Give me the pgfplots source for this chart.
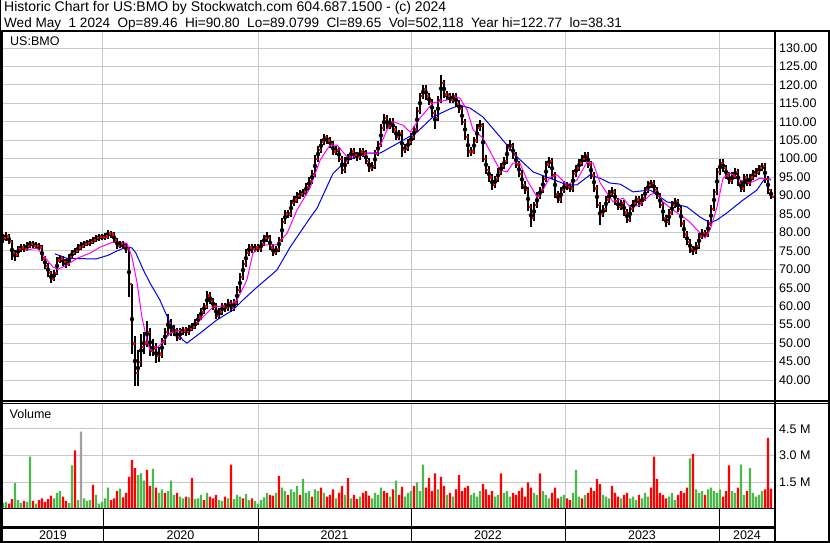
\documentclass[border=0pt]{standalone}
\usepackage{pgfplots}
\pgfplotsset{compat=1.18}
\usepackage{pgfplotstable}
\usepackage{fontspec}
\setmainfont{Liberation Sans}
\definecolor{gridgray}{RGB}{200,200,200}
\definecolor{volgreen}{RGB}{76,184,76}
\definecolor{volred}{RGB}{255,0,0}
\definecolor{volgray}{RGB}{160,160,160}
\definecolor{maBlue}{RGB}{0,0,235}
\definecolor{maMag}{RGB}{255,0,255}
\newcommand\cf{\fontsize{12.5bp}{14bp}\selectfont}
\newcommand\tfa{\fontsize{14bp}{15bp}\selectfont}
\newcommand\tfb{\fontsize{13.55bp}{15bp}\selectfont}

% weekly index i (0 = mid May 2019), low, high, close, volume (millions), colour code (0 up, 1 down, 2 other)
\pgfplotstableread{
i lo hi cl v c
0 77.2 79.5 78.5 0.35 0
1 77.8 80.0 79.0 0.40 0
2 76.8 79.6 77.5 0.30 1
3 72.5 78.0 74.5 0.55 1
4 72.3 75.3 74.0 1.45 0
5 73.4 76.3 75.5 0.50 0
6 74.8 76.9 76.0 0.35 0
7 74.7 76.8 75.5 0.45 1
8 74.9 77.3 76.5 0.40 0
9 75.9 77.8 77.0 2.95 0
10 75.8 77.7 76.5 0.45 1
11 75.6 77.3 76.5 0.30 0
12 75.2 77.2 76.0 0.50 1
13 72.2 76.5 73.0 0.60 1
14 70.2 73.6 71.0 0.40 1
15 68.0 71.8 69.0 0.55 1
16 66.3 69.6 67.5 0.75 1
17 66.8 69.9 69.0 0.60 0
18 68.5 73.3 72.5 0.90 0
19 71.8 73.9 73.0 1.00 0
20 71.0 73.7 72.0 0.70 1
21 70.5 72.8 71.5 0.45 1
22 70.9 74.2 73.5 0.35 0
23 72.9 75.2 74.5 2.45 0
24 73.8 75.8 75.0 3.30 1
25 74.3 76.8 76.0 0.50 0
26 75.3 77.3 76.5 4.35 2
27 75.8 77.8 77.0 0.60 0
28 76.2 78.0 77.2 0.45 0
29 76.4 78.3 77.5 0.50 0
30 76.8 78.7 78.0 1.35 1
31 77.3 79.3 78.5 0.80 0
32 77.8 79.5 78.8 0.30 0
33 77.9 79.6 78.8 0.40 0
34 78.0 79.8 79.0 0.60 0
35 78.3 80.8 79.8 1.20 0
36 78.6 80.5 79.5 0.50 1
37 77.2 80.1 78.0 0.60 1
38 75.6 78.6 76.5 1.00 1
39 75.8 77.8 77.0 1.15 0
40 75.5 77.6 76.5 0.65 1
41 74.3 77.2 75.5 0.90 1
42 62.5 76.0 66.0 1.80 1
43 47.0 66.0 50.0 2.75 1
44 38.3 52.0 42.0 2.30 1
45 38.5 48.0 45.0 1.90 0
46 43.5 52.5 49.0 2.00 0
47 47.0 53.0 50.0 1.60 0
48 49.0 56.0 53.0 2.20 1
49 46.5 54.0 48.0 1.30 1
50 46.5 51.0 49.0 2.25 0
51 44.5 50.0 46.5 1.20 1
52 45.0 49.0 47.0 0.90 0
53 46.0 51.5 50.5 1.10 0
54 49.5 54.0 53.0 0.90 1
55 52.0 58.0 55.5 1.00 0
56 52.0 56.5 53.0 1.60 0
57 51.8 54.8 53.5 0.80 0
58 50.5 54.0 51.5 0.90 1
59 50.8 54.0 53.0 0.70 0
60 52.3 54.5 53.5 0.60 0
61 52.0 54.5 53.0 0.70 1
62 52.2 55.0 54.0 0.65 0
63 53.2 55.5 54.5 1.75 1
64 53.7 56.5 55.5 0.55 0
65 54.8 58.0 57.0 0.60 0
66 56.3 59.5 58.5 0.80 0
67 57.8 61.0 60.0 0.50 1
68 59.2 64.0 63.0 0.90 0
69 60.5 63.8 61.5 0.70 1
70 59.0 62.3 60.0 0.60 1
71 56.5 60.8 57.5 0.80 1
72 56.6 59.4 58.5 0.50 0
73 57.6 60.9 60.0 0.45 0
74 58.5 61.0 59.5 0.70 1
75 58.6 62.0 61.0 0.60 0
76 58.4 61.8 59.5 2.50 1
77 58.6 61.9 61.0 0.55 0
78 60.2 65.4 64.5 0.80 0
79 63.7 68.9 68.0 0.70 0
80 67.2 72.4 71.5 0.60 1
81 70.6 75.4 74.5 0.85 0
82 73.7 76.9 76.0 0.50 0
83 74.5 77.0 75.5 0.60 1
84 74.6 77.0 76.0 0.45 0
85 74.6 77.0 75.5 0.30 0
86 74.7 77.9 77.0 0.50 0
87 76.2 79.4 78.5 0.65 0
88 77.5 80.0 78.5 0.90 0
89 75.2 79.2 76.0 0.80 1
90 73.6 76.8 74.5 0.75 1
91 73.8 76.4 75.5 0.90 0
92 74.8 78.9 78.0 1.85 1
93 77.3 83.9 83.0 1.20 0
94 82.2 86.0 85.0 1.00 0
95 83.8 86.2 85.0 0.80 1
96 84.3 88.9 88.0 1.10 0
97 87.1 89.9 89.0 0.95 0
98 88.1 90.9 90.0 1.30 0
99 89.1 91.4 90.5 0.80 1
100 89.6 91.9 91.0 1.70 0
101 90.1 93.4 92.5 0.90 0
102 91.6 94.9 94.0 1.00 0
103 93.1 96.9 96.0 0.70 1
104 95.1 100.9 100.0 1.10 0
105 99.1 103.4 102.5 1.00 0
106 101.6 105.4 104.5 1.20 1
107 103.6 106.6 106.0 0.90 0
108 103.9 106.5 105.0 0.70 1
109 102.9 105.9 104.0 0.80 1
110 100.9 104.8 102.0 1.10 1
111 101.0 103.5 102.5 0.60 0
112 99.0 103.3 100.0 0.90 1
113 95.9 100.8 97.0 1.30 1
114 96.2 100.4 99.5 0.80 0
115 98.6 101.4 100.5 1.75 1
116 99.6 102.9 102.0 0.60 0
117 100.0 102.8 101.0 0.80 1
118 99.5 101.9 100.5 0.55 1
119 99.6 102.9 102.0 0.70 0
120 100.5 102.8 101.5 0.90 1
121 98.5 102.3 99.5 1.00 1
122 96.4 100.3 97.5 0.75 1
123 96.6 99.0 98.0 0.60 0
124 97.2 102.4 101.5 0.90 0
125 100.6 104.9 104.0 0.80 0
126 103.2 109.4 108.5 1.20 0
127 107.6 112.2 111.0 1.00 1
128 108.0 111.8 109.0 0.90 1
129 108.1 111.0 110.0 0.70 0
130 107.0 110.9 108.0 1.10 1
131 105.0 108.8 106.0 1.60 0
132 105.1 107.9 107.0 0.80 1
133 100.5 107.8 102.5 1.25 1
134 101.6 104.0 103.0 0.70 0
135 102.1 105.4 104.5 0.90 0
136 103.6 106.9 106.0 1.00 0
137 105.1 108.9 108.0 1.30 1
138 107.2 113.9 113.0 1.50 0
139 112.2 117.9 117.0 1.00 0
140 116.1 120.0 119.0 2.50 0
141 116.0 119.9 117.0 1.20 1
142 114.5 117.8 115.5 1.75 1
143 111.4 116.3 112.5 1.00 1
144 108.0 113.3 111.0 2.00 1
145 110.2 116.9 116.0 1.10 0
146 115.2 122.77 120.5 1.80 1
147 116.5 121.3 117.5 1.30 1
148 116.0 118.4 117.0 0.80 0
149 115.0 117.9 116.0 0.90 1
150 115.2 117.9 117.0 0.70 0
151 114.0 117.8 115.0 1.10 1
152 112.5 115.9 113.5 1.90 1
153 109.0 114.3 110.0 1.00 1
154 105.0 110.8 106.0 1.20 1
155 100.5 106.8 102.0 1.30 1
156 100.8 103.2 102.0 0.80 0
157 101.2 105.9 105.0 0.90 0
158 104.2 109.4 108.5 0.70 0
159 107.6 110.5 109.0 1.00 0
160 99.0 109.8 100.0 1.40 1
161 95.8 100.9 97.0 1.10 1
162 93.8 97.9 95.0 0.80 1
163 91.5 95.8 93.0 1.00 1
164 92.1 95.4 94.5 0.70 0
165 93.6 97.4 96.5 0.80 0
166 95.6 98.9 98.0 2.00 1
167 97.1 100.4 99.5 0.90 0
168 98.6 103.9 103.0 1.00 0
169 102.0 105.0 103.5 0.70 0
170 100.0 104.3 101.0 0.90 1
171 97.4 101.9 98.5 0.80 1
172 94.9 99.3 96.0 1.00 1
173 91.9 96.8 93.0 1.20 1
174 90.4 93.9 91.5 0.70 1
175 85.9 92.3 87.0 1.50 1
176 81.5 87.8 84.0 1.20 1
177 83.1 88.3 87.5 0.90 0
178 86.6 90.9 90.0 0.80 0
179 89.1 92.4 91.5 2.00 1
180 90.6 95.4 94.5 1.00 0
181 93.6 99.4 98.5 0.80 0
182 97.6 100.5 99.5 0.60 0
183 94.5 100.3 95.5 0.90 1
184 89.4 96.3 90.5 1.20 1
185 88.0 91.3 89.0 0.60 1
186 88.1 92.4 91.5 0.70 0
187 90.6 93.9 93.0 0.80 0
188 91.5 93.8 92.5 0.60 1
189 91.0 93.4 92.0 0.50 1
190 91.1 96.9 96.0 0.90 0
191 95.1 98.4 97.5 2.20 0
192 96.6 99.9 99.0 0.70 0
193 98.1 100.9 100.0 0.60 1
194 99.1 101.8 101.0 0.80 0
195 97.5 101.8 98.5 0.90 1
196 94.5 99.3 95.5 1.20 1
197 91.0 96.3 92.0 1.00 1
198 86.5 92.8 87.5 1.70 1
199 82.0 88.3 85.0 1.40 1
200 84.1 87.4 86.5 0.80 0
201 85.6 89.9 89.0 0.70 0
202 88.1 91.4 90.5 0.60 0
203 89.6 92.3 91.0 1.30 1
204 87.5 91.8 88.5 0.90 1
205 86.0 89.3 87.0 0.70 1
206 86.1 88.9 88.0 0.60 0
207 84.5 88.8 85.5 0.80 1
208 82.6 86.3 83.5 0.90 1
209 82.7 87.4 86.5 0.60 0
210 85.6 88.9 88.0 0.70 0
211 87.1 89.9 89.0 0.50 0
212 87.0 89.8 88.0 0.80 1
213 87.1 90.4 89.5 0.60 0
214 88.6 92.4 91.5 0.90 0
215 90.6 93.9 93.0 0.70 0
216 92.1 94.2 93.5 1.20 1
217 90.5 94.3 91.5 2.95 1
218 89.0 92.3 90.0 1.70 1
219 86.5 90.8 87.5 0.90 1
220 83.0 88.3 84.0 0.80 1
221 81.5 84.8 83.0 0.60 1
222 82.1 86.4 85.5 0.70 0
223 84.6 88.4 87.5 0.90 0
224 86.6 89.3 88.5 0.50 0
225 85.5 89.2 86.5 0.80 1
226 81.5 87.3 82.5 1.00 1
227 78.5 83.3 79.5 0.90 1
228 76.5 80.3 77.5 1.20 1
229 74.5 78.3 75.5 2.85 0
230 74.0 76.3 75.0 3.10 1
231 74.2 77.4 76.5 1.10 0
232 75.6 79.9 79.0 0.90 0
233 78.1 80.9 80.0 1.00 0
234 78.5 80.8 79.5 0.80 1
235 78.7 83.4 82.5 1.10 0
236 81.7 87.4 86.5 1.20 0
237 85.7 91.9 91.0 1.00 0
238 90.2 97.4 96.5 0.90 0
239 95.7 99.8 99.0 1.10 0
240 96.5 99.8 97.5 0.70 1
241 94.5 98.3 95.5 1.00 1
242 93.0 96.3 94.0 2.45 1
243 93.1 96.4 95.5 1.00 0
244 94.6 97.4 96.5 0.90 0
245 92.5 97.3 93.5 1.20 1
246 91.0 94.3 92.0 2.50 0
247 91.1 95.9 95.0 0.80 0
248 92.5 95.8 93.5 1.00 1
249 92.6 95.9 95.0 2.30 0
250 94.1 96.9 96.0 0.90 0
251 95.1 97.4 96.5 0.70 0
252 95.6 98.4 97.5 0.80 0
253 96.6 98.8 98.0 1.00 0
254 93.5 98.8 94.5 1.10 1
255 90.5 95.3 91.5 4.00 1
256 89.08 91.8 89.65 1.15 1
}\bmo

\pgfplotstableread{
i ma
17.3 74.2
21.3 73.0
26 72.9
31 72.8
35 73.8
38 75.0
41.3 76.1
43 75.8
44.3 74.4
46.8 69.8
49 66.3
52.3 61.7
53.3 59.8
55.7 55.4
60 50.8
61.3 50.0
65.7 52.7
71.3 56.3
76.7 59.0
80 61.7
84.7 65.2
91.3 69.8
95.7 76.0
102.3 83.9
104.7 86.6
110 96.0
114.7 99.6
121.3 101.5
125.7 101.5
132.3 104.5
138 107.2
143.3 111.3
149 113.5
152.3 114.5
155.7 113.7
160 111.3
165.7 105.9
171.3 100.5
176.7 96.4
182.3 94.7
188 92.9
191.3 92.9
195.7 95.6
199 94.7
202.3 93.4
205.7 93.1
210 91.0
215.7 91.5
221.3 88.3
228 86.9
232.3 84.2
235.7 82.6
238 83.4
241.3 85.3
246.7 88.8
251.3 91.5
254 94.7
256 94.4
}\mablue

\pgfplotstableread{
i ma
5 75.8
8 75.2
11.3 75.8
13.3 73.9
16.7 70.6
18.3 70.0
21.3 71.2
24.7 73.0
29 74.4
32.3 76.0
36.7 77.4
41.3 77.1
43 73.3
44.7 66.3
46.3 57.1
48 50.8
49 48.1
51.3 48.7
52.3 49.5
55.7 52.7
59 53.5
63.3 54.1
66.7 57.1
70 59.8
75.7 60.3
78 61.7
81.3 67.1
83.3 74.4
86.7 76.6
91.3 76.6
94.7 79.8
98 86.1
102.3 92.0
105.7 99.6
109 103.7
111.3 103.7
114.7 100.5
118 100.5
122.3 101.5
124.7 101.5
128 107.8
130 110.0
133.3 109.1
135.7 107.2
139 111.0
143.3 115.1
148 115.9
151.3 116.7
152.3 116.4
154.7 113.2
156.7 107.8
160 105.6
163.3 100.5
165.7 96.9
168 96.4
170 98.8
172.3 98.8
174.7 94.2
178 89.6
180 91.5
182.3 95.0
184.7 95.6
188 92.9
191.3 94.2
194.7 99.1
196.7 98.8
199 93.5
201.3 90.7
203.3 88.3
206.7 89.3
209 86.9
212.3 87.4
215.7 90.2
218 91.0
220 88.3
223.3 86.1
226.7 84.2
229 82.8
231.3 80.7
234 78.5
235.7 80.7
238 86.9
240 94.7
242.3 96.1
245.7 94.2
249 93.4
252.3 94.7
254.7 94.4
256 94.2
}\mamag

\begin{document}
\begin{tikzpicture}
\useasboundingbox (0bp,0bp) rectangle (830bp,543bp);
\fill[white] (0bp,0bp) rectangle (830bp,543bp);

% ---------------- price panel ----------------
\begin{axis}[
  at={(3bp,142bp)}, anchor=south west, scale only axis,
  width=772bp, height=369bp,
  xmin=0, xmax=257.33, ymin=34.31, ymax=134.34,
  axis line style={draw=none},
  major tick length=0pt,
  xtick={33.33,85,136,187.33,238.67}, xticklabels={},
  ytick={40,45,...,130}, yticklabel pos=right,
  xmajorgrids, ymajorgrids,
  grid style={gridgray, line width=1bp},
  tick label style={font=\cf, text=black},
  yticklabel style={anchor=west, inner sep=0pt, xshift=4bp,
    /pgf/number format/.cd, fixed, fixed zerofill, precision=2, assume math mode=true},
  clip=true,
]
\addplot[only marks, mark=none,
  error bars/.cd, y dir=both, y explicit, error mark=none,
  error bar style={draw=black, line width=2.2bp}]
  table[x=i, y expr={(\thisrow{hi}+\thisrow{lo})/2}, y error expr={(\thisrow{hi}-\thisrow{lo})/2}] {\bmo};
\addplot[only marks, mark=square*, mark size=0.6bp, color=red]
  table[x expr={\thisrow{i}+0.5}, y=cl] {\bmo};
\addplot[maBlue, line width=1bp] table[x=i, y=ma] {\mablue};
\addplot[maMag, line width=1bp] table[x=i, y=ma] {\mamag};
\end{axis}

% ---------------- volume panel ----------------
\begin{axis}[
  at={(3bp,34bp)}, anchor=south west, scale only axis,
  width=772bp, height=106bp,
  xmin=0, xmax=257.33, ymin=0, ymax=5.96,
  axis line style={draw=none},
  major tick length=0pt,
  xtick={33.33,85,136,187.33,238.67}, xticklabels={},
  ytick={1.5,3,4.5}, yticklabels={1.5 M,3.0 M,4.5 M}, yticklabel pos=right,
  xmajorgrids, ymajorgrids,
  grid style={gridgray, line width=1bp},
  tick label style={font=\cf, text=black},
  yticklabel style={anchor=west, inner sep=0pt, xshift=4bp},
  clip=true,
]
\addplot[ybar, bar width=2.3bp, bar shift=0pt, fill=volgreen, draw=none]
  table[x=i, y expr={ifthenelse(\thisrow{c}==0,\thisrow{v},0)}] {\bmo};
\addplot[ybar, bar width=2.3bp, bar shift=0pt, fill=volred, draw=none]
  table[x=i, y expr={ifthenelse(\thisrow{c}==1,\thisrow{v},0)}] {\bmo};
\addplot[ybar, bar width=2.3bp, bar shift=0pt, fill=volgray, draw=none]
  table[x=i, y expr={ifthenelse(\thisrow{c}==2,\thisrow{v},0)}] {\bmo};
\end{axis}

\begin{scope}[x=1bp,y=1bp]
% ---------------- frames ----------------
\draw[line width=1bp] (0.5,511) -- (0.5,543);
\draw[line width=2bp] (0,511.5) -- (830,511.5);
\draw[line width=3bp] (1.5,0) -- (1.5,512);
\draw[line width=2bp] (775,0) -- (775,512);
\draw[line width=2bp] (829,0) -- (829,512);
\draw[line width=1.3bp] (0,142) -- (830,142);
\draw[line width=1.3bp] (0,139.3) -- (830,139.3);
\draw[line width=1bp] (0,34) -- (775,34);
\draw[line width=2bp] (0,15.5) -- (775,15.5);
\draw[line width=2bp] (0,1) -- (830,1);
\foreach \sx in {103,258,411,565,719} \draw[line width=1bp] (\sx,1) -- (\sx,34);

% ---------------- texts ----------------
\node[anchor=base west, inner sep=0pt, font=\tfa] at (4,531) {Historic Chart for US:BMO by Stockwatch.com 604.687.1500 - (c) 2024};
\node[anchor=base west, inner sep=0pt, font=\tfb] at (4,515.7) {Wed May\ \ 1 2024\ \ Op=89.46\ \ Hi=90.80\ \ Lo=89.0799\ \ Cl=89.65\ \ Vol=502,118\ \ Year hi=122.77\ \ lo=38.31};
\node[anchor=base west, inner sep=0pt, font=\cf] at (10,497) {US:BMO};
\node[anchor=base west, inner sep=0pt, font=\cf] at (9.5,125) {Volume};
\foreach \yx/\yl in {53/2019,180.5/2020,334.5/2021,488/2022,642/2023,747/2024}
  \node[anchor=base, inner sep=0pt, font=\cf] at (\yx,4) {\yl};
\end{scope}
\end{tikzpicture}
\end{document}
